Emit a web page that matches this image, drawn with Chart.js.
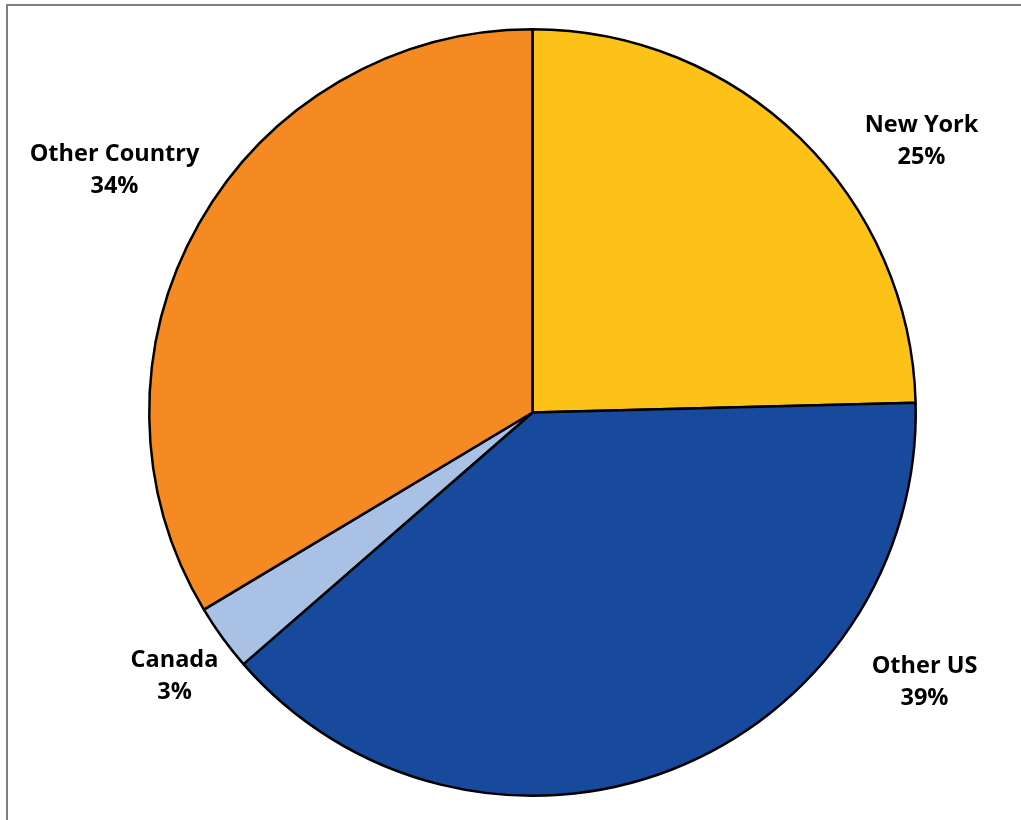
<!DOCTYPE html>
<html>
<head>
<meta charset="utf-8">
<script src="https://cdn.jsdelivr.net/npm/chart.js@4.4.1/dist/chart.umd.min.js"></script>
<style>
    html, body { margin: 0; padding: 0; background: #fff; }
    #wrap { position: relative; width: 1021px; height: 820px; }
</style>
</head>
<body>
<div id="wrap"><canvas id="regionPie"></canvas></div>
<script>
const regions = ["New York", "Other US", "Canada", "Other Country"];
const shares = [24.6, 39.0, 2.8, 33.6];
const sliceColors = ["#FDC218", "#174A9D", "#A9C1E4", "#F58A22"];

// label placement (first baseline) relative to pie centre, in px
const labelOffsets = [[389, -281], [392, 260], [-358, 254], [-418, -252]];

const total = shares.reduce((a, b) => a + b, 0);

const frameAndLabels = {
    id: "frameAndLabels",
    beforeDraw(chart) {
        const ctx = chart.ctx;
        ctx.save();
        ctx.strokeStyle = "#7f7f7f";
        ctx.lineWidth = 2;
        ctx.beginPath();
        ctx.moveTo(7, chart.height);
        ctx.lineTo(7, 5);
        ctx.lineTo(chart.width, 5);
        ctx.stroke();
        ctx.restore();
    },
    afterDraw(chart) {
        const ctx = chart.ctx;
        const meta = chart.getDatasetMeta(0);
        ctx.save();
        ctx.fillStyle = "#000";
        ctx.font = "bold 23.5px 'Open Sans', 'Noto Sans', sans-serif";
        ctx.textAlign = "center";
        ctx.textBaseline = "alphabetic";
        meta.data.forEach((arc, i) => {
            const x = arc.x + labelOffsets[i][0];
            const y = arc.y + labelOffsets[i][1];
            const pct = Math.round(shares[i] / total * 100) + "%";
            ctx.fillText(regions[i], x, y);
            ctx.fillText(pct, x, y + 32);
        });
        ctx.restore();
    },
};

new Chart(document.getElementById("regionPie"), {
    type: "pie",
    data: {
        labels: regions,
        datasets: [
            {
                data: shares,
                backgroundColor: sliceColors,
                borderColor: "#000",
                borderWidth: 2.5,
            },
        ],
    },
    options: {
        responsive: true,
        maintainAspectRatio: false,
        animation: false,
        layout: { padding: { top: 28, bottom: 23, left: 148, right: 104 } },
        plugins: {
            legend: { display: false },
            tooltip: { enabled: false },
        },
    },
    plugins: [frameAndLabels],
});
</script>
</body>
</html>
